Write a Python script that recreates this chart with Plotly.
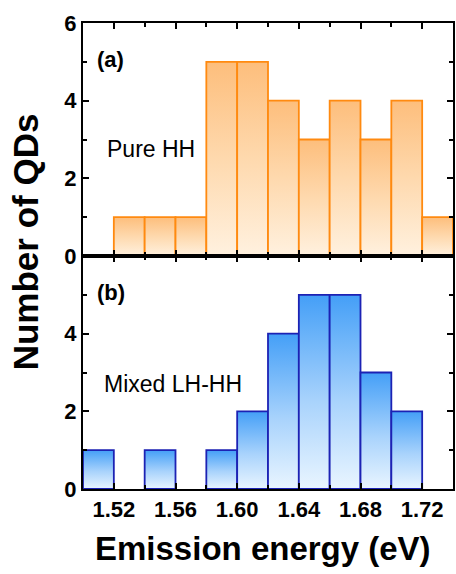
import plotly.graph_objects as go
from plotly.subplots import make_subplots

# Data
bin_edges = [1.50, 1.52, 1.54, 1.56, 1.58, 1.60, 1.62, 1.64, 1.66, 1.68, 1.70, 1.72, 1.74]
pure_hh_counts = [0, 1, 1, 1, 5, 5, 4, 3, 4, 3, 4, 1]
mixed_counts = [1, 0, 1, 0, 1, 2, 4, 5, 5, 3, 2, 0]
x_tickvals = [1.52, 1.56, 1.60, 1.64, 1.68, 1.72]
x_ticktext = ["1.52", "1.56", "1.60", "1.64", "1.68", "1.72"]

orange_line = "#FF8A10"
orange_scale = [[0, "#FFF1DF"], [0.5, "#FED9AE"], [1, "#FDBE7C"]]
blue_line = "#1C22B4"
blue_scale = [[0, "#E9F5FF"], [0.45, "#A9D3FC"], [1, "#449FF7"]]

FONT = "Liberation Sans, Arial, sans-serif"

fig = make_subplots(rows=2, cols=1, shared_xaxes=False, vertical_spacing=0)


def add_hist(counts, row, line_color, scale):
    for i, c in enumerate(counts):
        if c <= 0:
            continue
        l, r = bin_edges[i], bin_edges[i + 1]
        fig.add_trace(
            go.Scatter(
                x=[l, l, r, r, l],
                y=[0, c, c, 0, 0],
                mode="lines",
                fill="toself",
                fillgradient=dict(type="vertical", colorscale=scale),
                line=dict(color=line_color, width=1.8),
                hoverinfo="skip",
                showlegend=False,
            ),
            row=row,
            col=1,
        )


add_hist(pure_hh_counts, 1, orange_line, orange_scale)
add_hist(mixed_counts, 2, blue_line, blue_scale)

tick_font = dict(family=FONT, size=22, color="black", weight="bold")

common_x = dict(
    range=[bin_edges[0], bin_edges[-1]],
    tickvals=x_tickvals,
    ticktext=x_ticktext,
    ticks="inside",
    ticklen=6,
    tickwidth=2,
    tickcolor="black",
    minor=dict(dtick=0.02, tick0=1.50, ticks="inside", ticklen=4, tickwidth=2, tickcolor="black"),
    showline=True,
    linewidth=2,
    linecolor="black",
    mirror="ticks",
    showgrid=False,
    zeroline=False,
    tickfont=tick_font,
)
fig.update_xaxes(**common_x)
fig.update_xaxes(showticklabels=False, row=1, col=1)
fig.update_xaxes(showticklabels=True, row=2, col=1)

common_y = dict(
    range=[0, 6],
    ticks="inside",
    ticklen=6,
    tickwidth=2,
    tickcolor="black",
    minor=dict(dtick=1, tick0=0, ticks="inside", ticklen=4, tickwidth=2, tickcolor="black"),
    showline=True,
    linewidth=2,
    linecolor="black",
    mirror="ticks",
    showgrid=False,
    zeroline=False,
    tickfont=tick_font,
)
fig.update_yaxes(**common_y)
fig.update_yaxes(tickvals=[0, 2, 4, 6], ticktext=["0", "2", "4", "6"], row=1, col=1)
fig.update_yaxes(tickvals=[0, 2, 4, 6], ticktext=["0", "2", "4", ""], row=2, col=1)

ann_bold = dict(family=FONT, size=22, color="black", weight="bold")
ann_reg = dict(family=FONT, size=23, color="black")
annotations = [
    dict(text="(a)", x=1.5077, y=5.05, xref="x", yref="y", xanchor="left", yanchor="middle", showarrow=False, font=ann_bold),
    dict(text="Pure HH", x=1.5142, y=2.76, xref="x", yref="y", xanchor="left", yanchor="middle", showarrow=False, font=ann_reg),
    dict(text="(b)", x=1.5077, y=5.07, xref="x2", yref="y2", xanchor="left", yanchor="middle", showarrow=False, font=ann_bold),
    dict(text="Mixed LH-HH", x=1.5123, y=2.70, xref="x2", yref="y2", xanchor="left", yanchor="middle", showarrow=False, font=ann_reg),
    dict(text="Number of QDs", x=-0.156, y=0.53, xref="paper", yref="paper", textangle=-90,
         xanchor="center", yanchor="middle", showarrow=False,
         font=dict(family=FONT, size=35, color="black", weight="bold")),
    dict(text="Emission energy (eV)", x=0.487, y=-0.127, xref="paper", yref="paper",
         xanchor="center", yanchor="middle", showarrow=False,
         font=dict(family=FONT, size=33, color="black", weight="bold")),
]

fig.update_layout(
    width=456,
    height=574,
    margin=dict(l=83, r=1, t=23, b=85),
    paper_bgcolor="white",
    plot_bgcolor="white",
    annotations=annotations,
    showlegend=False,
)

fig.write_html("out.html")
